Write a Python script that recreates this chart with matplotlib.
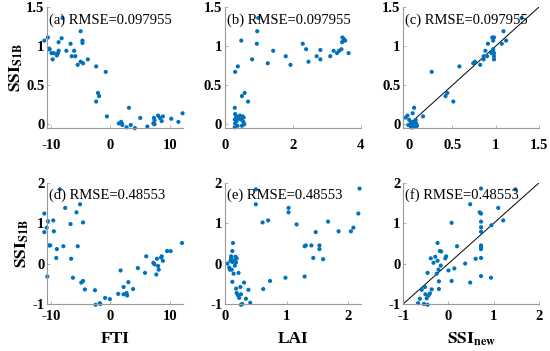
import numpy as np
import matplotlib.pyplot as plt

plt.rcParams['font.family'] = 'Liberation Serif'
plt.rcParams['mathtext.fontset'] = 'stix'

# (a) FTI vs SSI_S1B
fti_a = [-11.1, -10.5, -10.3, -10.2, -9.9, -9.7, -9.5, -9.0, -8.8, -8.7, -8.7, -8.2, -8.06,
         -7.4, -6.7, -6.5, -6.1, -5.9, -5.5, -5.0, -5.0, -4.7, -4.7, -4.6, -3.8, -2.4, -2.4,
         -2.1, -1.9, -0.8, -0.6, 1.4, 1.8, 1.9, 2.0, 2.7, 3.1, 3.4, 4.1, 5.0, 6.2, 7.2, 7.3,
         7.4, 7.4, 8.0, 8.3, 8.6, 8.8, 10.2, 11.4, 12.1]
ssi_a = [1.07, 1.11, 0.96, 0.96, 0.91, 0.83, 0.91, 0.88, 0.91, 0.94, 1.05, 1.10, 1.36,
         0.94, 1.03, 0.87, 0.94, 0.87, 0.76, 1.19, 0.80, 1.07, 1.04, 0.78, 0.83, 0.74, 0.29,
         0.40, 0.36, 0.67, 0.10, 0.01, 0.03, 0.01, -0.01, -0.04, 0.21, -0.01, -0.05, 0.08, -0.03, 0.01, 0.08,
         0.0, 0.05, 0.11, 0.08, 0.04, 0.10, 0.07, 0.03, 0.14]

# (b) LAI vs SSI_S1B
lai_b = [0.29, 0.30, 0.29, 0.30, 0.29, 0.33, 0.34, 0.37, 0.40, 0.44, 0.48, 0.50, 0.52, 0.54,
         0.55, 0.57, 0.30, 0.38, 0.48, 0.50, 0.58, 0.68, 0.80, 0.94, 0.95, 0.98, 1.26, 1.42,
         1.79, 1.93, 2.29, 2.39, 2.46, 2.70, 2.81, 2.81, 3.10, 3.20, 3.30, 3.36, 3.43, 3.45,
         3.46, 3.50, 3.54, 3.64]
ssi_b = [0.21, 0.13, 0.06, 0.01, -0.04, 0.10, 0.04, -0.02, 0.07, 0.11, 0.06, -0.02, 0.10, 0.03,
         0.085, 0.0, 0.67, 0.74, 1.07, 0.36, 0.40, 0.29, 0.83, 1.03, 1.19, 1.36, 0.78, 0.94,
         0.87, 0.76, 1.03, 0.96, 0.80, 0.87, 0.95, 0.83, 0.87, 0.94, 0.91, 0.94, 0.96, 1.05,
         1.11, 1.09, 1.07, 0.91]

# (c) SSI_new vs SSI_S1B
new_c = [-0.04, -0.02, 0.0, 0.02, 0.03, 0.04, 0.045, 0.056, 0.056, 0.07, 0.075, 0.08, 0.075,
         0.02, -0.01, 0.09, 0.16, 0.26, 0.42, 0.44, 0.51, 0.58, 0.74, 0.76, 0.82, 0.86, 0.86,
         0.88, 0.91, 0.90, 0.96, 0.97, 0.98, 0.97, 0.98, 0.98, 0.98, 0.97, 0.95, 1.07, 1.09,
         1.12, 1.30]
ssi_c = [0.085, 0.11, 0.055, 0.03, 0.0, 0.14, -0.04, 0.21, 0.02, -0.01, -0.03, 0.01, 0.055,
         -0.04, -0.01, -0.02, 0.10, 0.67, 0.36, 0.40, 0.29, 0.74, 0.78, 0.80, 0.76, 0.87, 0.83,
         0.94, 1.03, 0.87, 1.11, 1.07, 1.11, 0.96, 0.91, 0.87, 0.83, 0.94, 0.91, 1.03, 1.19,
         1.07, 1.36]

# (d) FTI vs SSI_S1B
fti_d = [-11.1, -11.1, -10.7, -10.5, -10.6, -10.3, -10.1, -9.6, -9.5, -9.0, -9.1, -8.5, -7.9,
         -7.6, -6.7, -6.6, -6.3, -5.7, -5.5, -5.1, -4.9, -4.6, -4.6, -4.3, -2.6, -2.5, -1.8,
         -1.7, -0.9, -0.1, 1.3, 1.7, 2.2, 2.2, 2.7, 2.8, 3.0, 3.8, 4.6, 5.8, 6.0, 7.2, 7.4,
         7.7, 7.8, 8.0, 8.1, 8.5, 8.6, 8.8, 9.5, 10.1, 12.0]
ssi_d = [1.24, 0.78, 0.89, 1.05, -0.32, 0.45, 0.45, 1.07, 0.80, 0.36, 0.14, 1.84, 0.43,
         1.38, 0.98, 0.12, -0.35, 1.27, 0.43, 1.47, -0.47, -0.43, 1.02, -0.64, -0.66, -1.02, -0.98,
         -1.0, -0.85, -0.88, -0.75, -0.17, -0.58, -0.76, -0.73, -0.79, -0.46, -0.63, -0.11, -0.23, 0.18, 0.02, -0.02,
         -0.27, 0.12, -0.06, -0.15, 0.15, 0.18, 0.07, 0.31, 0.31, 0.51]

# (e) LAI vs SSI_S1B
lai_e = [0.04, 0.07, 0.08, 0.10, 0.10, 0.09, 0.12, 0.13, 0.11, 0.12, 0.14, 0.12, 0.15, 0.17,
         0.18, 0.16, 0.19, 0.18, 0.19, 0.21, 0.22, 0.23, 0.25, 0.26, 0.26, 0.28, 0.31, 0.34,
         0.38, 0.41, 0.50, 0.50, 0.61, 0.62, 0.70, 0.73, 0.98, 1.03, 1.03, 1.16, 1.29, 1.31,
         1.29, 1.40, 1.43, 1.47, 1.53, 1.53, 1.59, 1.67, 1.84, 2.04, 2.08, 2.16, 2.18]
ssi_e = [0.0, -0.10, -0.15, 0.18, 0.13, 0.07, 0.31, 0.51, -0.15, 0.04, -0.25, -0.45, 0.08, 0.17,
         0.03, -0.05, 0.13, -0.62, -0.73, -0.78, -0.23, -0.85, -0.58, -0.76, -1.02, -1.0, -0.47, -0.87,
         -0.65, -0.97, 1.84, 1.47, 1.02, -0.63, 1.07, -0.43, -0.35, 1.38, 1.27, 0.97, 0.43, 0.45,
         -0.32, 0.45, 0.14, 0.78, 0.45, 0.36, 0.11, 1.04, 0.80, 0.80, 0.89, 1.24, 1.86]

# (f) SSI_new vs SSI_S1B
new_f = [-0.67, -0.63, -0.59, -0.54, -0.52, -0.51, -0.48, -0.46, -0.46, -0.44, -0.41, -0.39,
         -0.37, -0.33, -0.29, -0.24, -0.24, -0.22, -0.21, -0.21, -0.19, -0.16, -0.17, -0.26,
         -0.07, -0.05, 0.0, 0.07, 0.07, 0.13, 0.19, 0.37, 0.48, 0.48, 0.60, 0.69, 0.72, 0.72,
         0.72, 0.72, 0.72, 0.72, 0.72, 0.72, 0.72, 0.72, 0.95, 0.94, 1.10, 1.21, 1.48]
ssi_f = [-0.98, -0.87, -0.65, -1.0, -0.58, -0.76, -0.86, -1.02, -0.23, -0.79, -0.74, 0.13,
         -0.64, 0.02, 0.17, 0.51, 0.07, -0.15, -0.44, -0.63, 0.31, 0.30, -0.05, -0.25,
         0.13, 0.18, -0.17, 1.01, -0.43, -0.12, 0.43, 0.0, 1.47, -0.47, 0.12, 1.27, 1.24, 1.86,
         1.04, 0.90, 0.79, 0.45, 0.41, 0.36, 0.14, -0.31, 0.95, -0.35, 1.38, 1.07, 1.84]

rmse_top = '0.097955'
rmse_bot = '0.48553'

panels = [
    (fti_a, ssi_a, '(a)', rmse_top, (-10.6, 12.2), (-0.05, 1.5), [-10, 0, 10], [0, 0.5, 1, 1.5], False),
    (lai_b, ssi_b, '(b)', rmse_top, (0, 4), (-0.05, 1.5), [0, 2, 4], [0, 0.5, 1, 1.5], False),
    (new_c, ssi_c, '(c)', rmse_top, (-0.07, 1.5), (-0.05, 1.5), [0, 0.5, 1, 1.5], [0, 0.5, 1, 1.5], True),
    (fti_d, ssi_d, '(d)', rmse_bot, (-10.6, 12.2), (-1, 2), [-10, 0, 10], [-1, 0, 1, 2], False),
    (lai_e, ssi_e, '(e)', rmse_bot, (0, 2.2), (-1, 2), [0, 1, 2], [-1, 0, 1, 2], False),
    (new_f, ssi_f, '(f)', rmse_bot, (-1, 2), (-1, 2), [-1, 0, 1, 2], [-1, 0, 1, 2], True),
]

fig = plt.figure(figsize=(5.5, 3.51), dpi=100)
lefts = [0.086, 0.409, 0.733]
bottoms = [0.635, 0.134]
w, h = 0.247, 0.345
ylab = r'$\mathbf{SSI}_{\mathbf{S1B}}$'
xlabs = ['FTI', 'LAI', r'$\mathbf{SSI}_{\mathbf{new}}$']

for i, (x, y, tag, rmse, xl, yl, xt, yt, oneone) in enumerate(panels):
    r, c = divmod(i, 3)
    ax = fig.add_axes([lefts[c], bottoms[r], w, h])
    if oneone:
        ax.plot([xt[0], xt[-1]], [xt[0], xt[-1]], color='k', lw=0.7, zorder=1)
    ax.scatter(x, y, s=9, color='#0072BD', edgecolors='none', zorder=2, clip_on=False)
    ax.set_xlim(xl)
    ax.set_ylim(yl)
    ax.set_xticks(xt)
    ax.set_yticks(yt)
    ax.set_xticklabels([('%g' % v) for v in xt], fontweight='bold', fontsize=10.5)
    ax.set_yticklabels([('%g' % v) for v in yt], fontweight='bold', fontsize=10.5)
    for s in ['top', 'right']:
        ax.spines[s].set_visible(False)
    for s in ['left', 'bottom']:
        ax.spines[s].set_color('#999999')
        ax.spines[s].set_linewidth(0.8)
    ax.tick_params(axis='both', direction='in', length=2, width=0.5, color='#999999')
    ax.tick_params(axis='y', pad=2)
    ax.tick_params(axis='x', pad=8 if r == 0 else 4)
    ax.text(0.015, 0.89 if r == 0 else 0.9, '%s RMSE=%s' % (tag, rmse),
            transform=ax.transAxes, fontsize=10.5, va='center', ha='left')
    if c == 0:
        ax.set_ylabel(ylab, fontsize=12.5, labelpad=1)
    if r == 1:
        ax.set_xlabel(xlabs[c], fontsize=12.5, fontweight='bold', labelpad=6)

fig.savefig('out.png', dpi=100)
